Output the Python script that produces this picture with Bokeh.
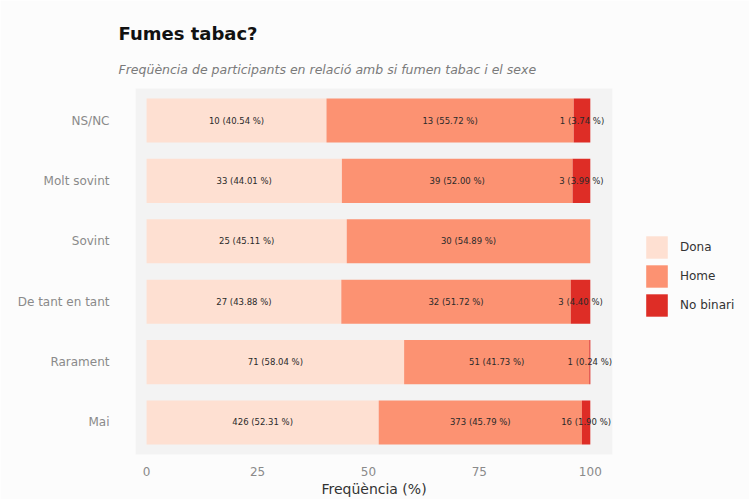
from bokeh.plotting import figure
from bokeh.models import ColumnDataSource, FactorRange, Legend, LegendItem, Title, FixedTicker
from bokeh.core.properties import value
from bokeh.embed import file_html
from bokeh.resources import INLINE
import numpy as np

categories = ["Mai", "Rarament", "De tant en tant", "Sovint", "Molt sovint", "NS/NC"]
groups = ["Dona", "Home", "No binari"]
colors = ["#fee0d2", "#fc9272", "#de2d26"]

dona_n = [426, 71, 27, 25, 33, 10]
home_n = [373, 51, 32, 30, 39, 13]
nb_n = [16, 1, 3, 0, 3, 1]
dona_pct = [52.31, 58.04, 43.88, 45.11, 44.01, 40.54]
home_pct = [45.79, 41.73, 51.72, 54.89, 52.00, 55.72]
nb_pct = [1.90, 0.24, 4.40, 0.00, 3.99, 3.74]

x_ticks = [0, 25, 50, 75, 100]

FONT = "DejaVu Sans"

p = figure(frame_width=477, frame_height=366, output_backend="svg", toolbar_location=None,
           y_range=FactorRange(factors=categories, range_padding=0.03, range_padding_units="absolute"),
           x_range=(-2.5, 105), min_border_left=135, min_border_right=130,
           min_border_top=88, min_border_bottom=5)
p.background_fill_color = "#f3f3f3"
p.border_fill_color = "#fcfcfc"
p.outline_line_color = None

counts = [dona_n, home_n, nb_n]
pcts = [dona_pct, home_pct, nb_pct]
left = np.zeros(len(categories))
renderers = []
for g, c, n, pc in zip(groups, colors, counts, pcts):
    pc = np.array(pc)
    right = left + pc
    labels = [f"{a} ({b:.2f} %)" for a, b in zip(n, pc)]
    src = ColumnDataSource(dict(y=categories, left=left, right=right))
    r = p.hbar(y="y", left="left", right="right", height=0.73, source=src,
               fill_color=c, line_color=None)
    renderers.append(r)
    keep = [i for i, v in enumerate(n) if v > 0]
    mids = (left + right) / 2
    tsrc = ColumnDataSource(dict(y=[categories[i] for i in keep],
                                 x=[mids[i] for i in keep],
                                 t=[labels[i] for i in keep]))
    p.text(x="x", y="y", text="t", source=tsrc, text_font=value(FONT),
           text_font_size="8.5px", text_color="#2a2a2a", text_align="center",
           text_baseline="middle")
    left = right

p.xgrid.grid_line_color = None
p.ygrid.grid_line_color = None
p.xaxis.ticker = FixedTicker(ticks=x_ticks)
for ax in (p.xaxis[0], p.yaxis[0]):
    ax.axis_line_color = None
    ax.major_tick_line_color = None
    ax.minor_tick_line_color = None
    ax.major_label_text_color = "#8a8a8a"
    ax.major_label_text_font = FONT
    ax.major_label_text_font_size = "12px"
p.yaxis.major_label_standoff = 20
p.xaxis.major_label_standoff = 6
p.xaxis.axis_label = "Freqüència (%)"
p.xaxis.axis_label_text_font = FONT
p.xaxis.axis_label_text_font_style = "normal"
p.xaxis.axis_label_text_font_size = "14px"
p.xaxis.axis_label_text_color = "#333333"
p.xaxis.axis_label_standoff = 2

legend = Legend(items=[LegendItem(label=g, renderers=[r]) for g, r in zip(groups, renderers)],
                location=(31, 135), glyph_width=27, glyph_height=28, spacing=1,
                label_text_font=FONT, label_text_font_size="12px",
                label_text_color="#333333", background_fill_alpha=0,
                border_line_color=None, margin=0, padding=0, label_standoff=10)
p.add_layout(legend, "right")

sub = Title(text="Freqüència de participants en relació amb si fumen tabac i el sexe",
            text_font=FONT, text_font_style="italic", text_font_size="12.5px",
            text_color="#7a7a7a", align="left", offset=-17, standoff=24)
main = Title(text="Fumes tabac?", text_font=FONT, text_font_style="bold",
             text_font_size="18px", text_color="#111111", align="left", offset=-17,
             standoff=8)
p.add_layout(sub, "above")
p.add_layout(main, "above")

open("out.html", "w").write(file_html(p, INLINE))
